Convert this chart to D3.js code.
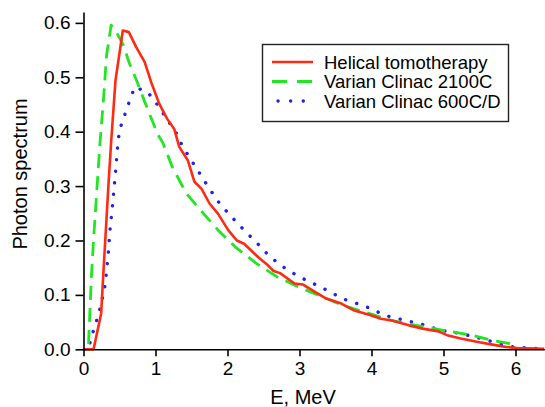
<!DOCTYPE html>
<html>
<head>
<meta charset="utf-8">
<script src="https://cdn.jsdelivr.net/npm/d3@7"></script>
<style>
html,body{margin:0;padding:0;background:#fff;}
svg{display:block;font-family:"Liberation Sans",Arial,sans-serif;}
</style>
</head>
<body>
<svg id="chart" width="545" height="407"></svg>
<script>
// ---- data ----
const seriesNames = ["Helical tomotherapy", "Varian Clinac 2100C", "Varian Clinac 600C/D"];

const helicalE = [0, 0.14, 0.245, 0.278, 0.35, 0.384, 0.444, 0.546, 0.63, 0.73, 0.85, 0.94, 1.05, 1.16, 1.26, 1.33, 1.45, 1.54, 1.64, 1.75, 1.87, 2.01, 2.13, 2.23, 2.42, 2.54, 2.64, 2.73, 2.93, 3.05, 3.22, 3.36, 3.58, 3.75, 3.99, 4.13, 4.28, 4.52, 4.71, 4.93, 5.05, 5.24, 5.48, 5.68, 5.87, 6.02, 6.4];
const helicalV = [0, 0, 0.066, 0.145, 0.31, 0.381, 0.494, 0.586, 0.583, 0.556, 0.528, 0.491, 0.452, 0.424, 0.405, 0.372, 0.347, 0.308, 0.295, 0.268, 0.249, 0.219, 0.2, 0.194, 0.17, 0.157, 0.144, 0.14, 0.121, 0.119, 0.105, 0.094, 0.084, 0.072, 0.0625, 0.056, 0.053, 0.044, 0.038, 0.033, 0.026, 0.02, 0.0135, 0.0086, 0.0043, 0.0025, 0.001];

const clinac2100E = [0.07, 0.107, 0.139, 0.185, 0.23, 0.278, 0.32, 0.384, 0.46, 0.55, 0.64, 0.75, 0.85, 0.94, 1.03, 1.1, 1.24, 1.43, 1.67, 1.87, 2.11, 2.40, 2.69, 2.98, 3.27, 3.60, 3.89, 4.28, 4.62, 5.0, 5.39, 5.68, 5.92, 6.0];
const clinac2100V = [0.01, 0.127, 0.2, 0.292, 0.381, 0.46, 0.54, 0.596, 0.582, 0.56, 0.525, 0.49, 0.455, 0.425, 0.395, 0.38, 0.333, 0.286, 0.249, 0.219, 0.188, 0.158, 0.133, 0.115, 0.099, 0.081, 0.069, 0.053, 0.044, 0.035, 0.026, 0.0165, 0.0104, 0.002];

const clinac600E = [0.09, 0.153, 0.213, 0.26, 0.3, 0.34, 0.37, 0.41, 0.444, 0.477, 0.5, 0.57, 0.63, 0.71, 0.89, 1.03, 1.14, 1.29, 1.38, 1.5, 1.63, 1.75, 1.89, 2.06, 2.23, 2.42, 2.59, 2.81, 3.0, 3.19, 3.39, 3.6, 3.8, 3.99, 4.18, 4.38, 4.57, 4.76, 4.95, 5.24, 5.53, 5.77, 5.97, 6.16, 6.4];
const clinac600V = [0.012, 0.041, 0.066, 0.093, 0.118, 0.17, 0.222, 0.274, 0.326, 0.378, 0.403, 0.43, 0.453, 0.482, 0.473, 0.449, 0.427, 0.397, 0.372, 0.347, 0.32, 0.295, 0.268, 0.243, 0.219, 0.194, 0.17, 0.148, 0.133, 0.121, 0.108, 0.093, 0.084, 0.075, 0.0625, 0.056, 0.05, 0.044, 0.035, 0.029, 0.0196, 0.0104, 0.0043, 0.0025, 0.001];

const xTicks = [0, 1, 2, 3, 4, 5, 6];
const yTicks = [0.0, 0.1, 0.2, 0.3, 0.4, 0.5, 0.6];
const xLabel = "E, MeV";
const yLabel = "Photon spectrum";

// ---- layout ----
const svg = d3.select("#chart");
const x = d3.scaleLinear().domain([0, 6.4]).range([83.5, 544.3]);
const y = d3.scaleLinear().domain([0, 0.62]).range([349.3, 12]);

const styles = [
  {color: "#ff2a12", width: 2.6, dash: null, cap: "butt"},
  {color: "#22e622", width: 2.8, dash: "14,8", cap: "butt"},
  {color: "#2020f0", width: 3.4, dash: "0.1,11.5", cap: "round"}
];

const series = [
  {E: helicalE, V: helicalV},
  {E: clinac2100E, V: clinac2100V},
  {E: clinac600E, V: clinac600V}
];

const line = d3.line().x(d => x(d[0])).y(d => y(d[1]));

// draw lines: blue first, then green, red on top
[2, 1, 0].forEach(i => {
  const s = series[i], st = styles[i];
  const pts = s.E.map((e, k) => [e, s.V[k]]);
  svg.append("path")
    .attr("d", line(pts))
    .attr("fill", "none")
    .attr("stroke", st.color)
    .attr("stroke-width", st.width)
    .attr("stroke-dasharray", st.dash)
    .attr("stroke-linecap", st.cap)
    .attr("stroke-linejoin", "round");
});

// axes
const xAxis = svg.append("g")
  .attr("transform", `translate(0,${y(0)})`)
  .call(d3.axisBottom(x).tickValues(xTicks).tickFormat(d3.format("d")).tickSize(7).tickSizeOuter(0).tickPadding(5));
const yAxis = svg.append("g")
  .attr("transform", `translate(${x(0)},0)`)
  .call(d3.axisLeft(y).tickValues(yTicks).tickFormat(d3.format(".1f")).tickSize(8).tickSizeOuter(0).tickPadding(5));

[xAxis, yAxis].forEach(g => {
  g.selectAll("path.domain").attr("stroke", "#000").attr("stroke-width", 1.6);
  g.selectAll(".tick line").attr("stroke", "#000").attr("stroke-width", 1.6);
  g.selectAll(".tick text").attr("fill", "#000").style("font-size", "19px")
    .style("font-family", '"Liberation Sans", Arial, sans-serif');
});

// axis titles
svg.append("text")
  .attr("x", 303).attr("y", 404)
  .attr("text-anchor", "middle")
  .style("font-size", "20px")
  .text(xLabel);
svg.append("text")
  .attr("transform", "translate(27,174) rotate(-90)")
  .attr("text-anchor", "middle")
  .style("font-size", "20px")
  .text(yLabel);

// legend
const lg = svg.append("g");
lg.append("rect")
  .attr("x", 262.5).attr("y", 44.5).attr("width", 246).attr("height", 77)
  .attr("fill", "#fff").attr("stroke", "#222").attr("stroke-width", 1.4);
seriesNames.forEach((name, i) => {
  const yy = 62 + i * 19.5;
  const st = styles[i];
  lg.append("line")
    .attr("x1", i === 2 ? 278 : 272).attr("x2", 313)
    .attr("y1", yy).attr("y2", yy)
    .attr("stroke", st.color).attr("stroke-width", st.width)
    .attr("stroke-dasharray", i === 1 ? "15,10" : (i === 2 ? "0.1,12.5" : null))
    .attr("stroke-linecap", st.cap);
  lg.append("text")
    .attr("x", 324).attr("y", yy + 6.5)
    .style("font-size", "18.5px")
    .text(name);
});
</script>
</body>
</html>
